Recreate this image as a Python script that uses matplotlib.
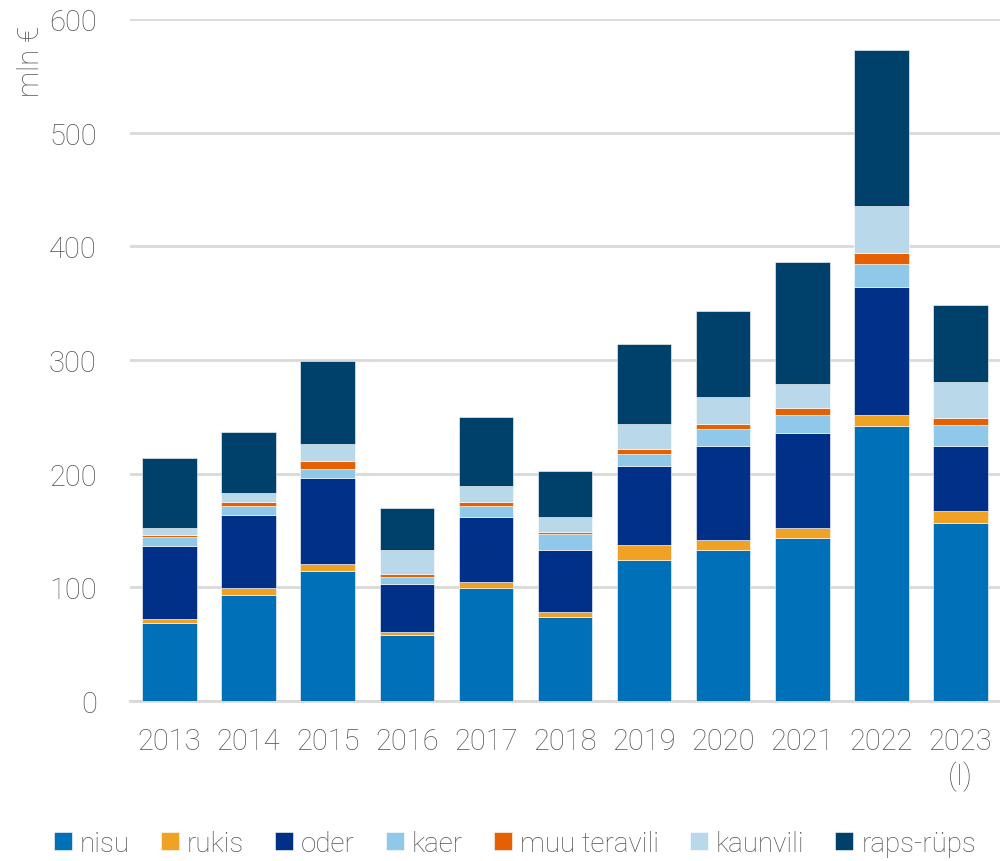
import matplotlib.pyplot as plt
import numpy as np

plt.rcParams['font.family'] = ['Roboto', 'DejaVu Sans']

years = ['2013', '2014', '2015', '2016', '2017', '2018', '2019', '2020', '2021', '2022', '2023\n(I)']

# mln €, per crop group
nisu = [69, 93.5, 114.5, 58, 99, 74, 124, 133, 143.5, 242, 156.5]
rukis = [3, 6, 6, 3, 6, 4, 13.5, 9, 9, 10, 11]
oder = [64, 64.5, 76, 42, 57, 54.5, 69, 82, 83.5, 112.5, 57]
kaer = [8, 7.5, 8, 6.5, 9.5, 14.5, 10.5, 15.5, 15.5, 20, 18]
muu_teravili = [2, 4, 6.5, 2, 4, 1.5, 5, 4.5, 6, 9.5, 6.5]
kaunvili = [6, 7.5, 15, 21, 13.5, 13, 22, 23.5, 21.5, 41.5, 32]
raps_rups = [62, 54, 73, 37, 60.5, 41, 70, 76, 107, 137, 67.5]

series = [
    ('nisu', nisu, '#0070B8'),
    ('rukis', rukis, '#F0A224'),
    ('oder', oder, '#003087'),
    ('kaer', kaer, '#8FC8E8'),
    ('muu teravili', muu_teravili, '#E46000'),
    ('kaunvili', kaunvili, '#B9D8EA'),
    ('raps-rüps', raps_rups, '#00416B'),
]

text_color = '#555555'

fig = plt.figure(figsize=(10, 8.62), dpi=100)
ax = fig.add_axes([0.13, 0.1856, 0.87, 0.7912])

x = np.arange(len(years))
bottom = np.zeros(len(years))
for name, vals, color in series:
    ax.bar(x, vals, width=0.69, bottom=bottom, color=color, label=name,
           edgecolor='white', linewidth=0.4, zorder=3)
    bottom += np.array(vals)

ax.set_xlim(-0.5, 10.5)
ax.set_ylim(0, 600)
ax.set_yticks(range(0, 601, 100))
ax.set_xticks(x)
ax.set_xticklabels(years)
ax.grid(axis='y', color='#d9d9d9', linewidth=2, zorder=0)
for s in ['top', 'right', 'left']:
    ax.spines[s].set_visible(False)
ax.spines['bottom'].set_color('#d9d9d9')
ax.spines['bottom'].set_linewidth(2)
ax.tick_params(axis='both', length=0, labelsize=21, labelcolor=text_color)
ax.tick_params(axis='x', pad=19)
ax.tick_params(axis='y', pad=24)
for lbl in ax.get_xticklabels() + ax.get_yticklabels():
    lbl.set_fontweight('light')

fig.text(0.031, 1 - 26 / 862, 'mln €', rotation=90, ha='center', va='top',
         fontsize=21, color=text_color, fontweight='light')

fig.legend(loc='lower center', bbox_to_anchor=(0.515, -0.024), ncol=7, frameon=False,
           handlelength=0.65, handleheight=0.65, handletextpad=0.3, columnspacing=1.1,
           prop={'size': 20, 'weight': 'light'}, labelcolor=text_color)

plt.savefig('out.png', dpi=100)
